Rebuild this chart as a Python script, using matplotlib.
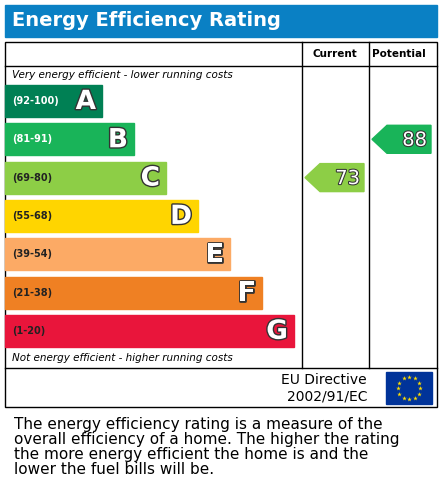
import matplotlib
matplotlib.use("Agg")
import matplotlib.pyplot as plt
from matplotlib.patches import Rectangle, Polygon
import matplotlib.patheffects as pe
import numpy as np

letters = ["A", "B", "C", "D", "E", "F", "G"]
ranges = ["(92-100)", "(81-91)", "(69-80)", "(55-68)", "(39-54)", "(21-38)", "(1-20)"]
colors = ["#008054", "#19b459", "#8dce46", "#ffd500", "#fcaa65", "#ef8023", "#e9153b"]
range_text_colors = ["white", "white", "#222222", "#222222", "#222222", "#222222", "#222222"]
current = 73
potential = 88
current_band = "C"
potential_band = "B"

fig = plt.figure(figsize=(4.42, 4.86), dpi=100)
ax = fig.add_axes([0, 0, 1, 1])
ax.set_xlim(0, 442); ax.set_ylim(486, 0); ax.axis("off")

# title bar
ax.add_patch(Rectangle((5, 5), 432, 32, color="#0a80c4"))
ax.text(12, 21, "Energy Efficiency Rating", color="white", fontsize=14, fontweight="bold", va="center")

# table
lw = 1
ax.add_patch(Rectangle((5, 42), 432, 365, fill=False, lw=lw, ec="black"))
ax.plot([5, 437], [66, 66], color="black", lw=lw)
ax.plot([5, 437], [368, 368], color="black", lw=lw)
ax.plot([302, 302], [42, 368], color="black", lw=lw)
ax.plot([369, 369], [42, 368], color="black", lw=lw)
ax.text(335, 54, "Current", fontsize=7.5, fontweight="bold", ha="center", va="center")
ax.text(399, 54, "Potential", fontsize=7.5, fontweight="bold", ha="center", va="center")
ax.text(12, 75, "Very energy efficient - lower running costs", fontsize=7.5, style="italic", va="center")
ax.text(12, 358, "Not energy efficient - higher running costs", fontsize=7.5, style="italic", va="center")

top0, step, h = 85, 38.3, 32
for i, (L, r, c, tc) in enumerate(zip(letters, ranges, colors, range_text_colors)):
    y = top0 + i * step
    right = 102 + 32 * i
    ax.add_patch(Rectangle((5, y), right - 5, h, color=c))
    ax.text(12, y + h / 2, r, fontsize=7, fontweight="bold", color=tc, va="center")
    ax.text(right - 6, y + h / 2 + 1, L, fontsize=19, fontweight="bold", color="white",
            ha="right", va="center",
            path_effects=[pe.withStroke(linewidth=2, foreground="#333333")])

def arrow(x0, x1, band, val):
    i = letters.index(band)
    y = top0 + i * step
    yt, yb = y + 2, y + 30
    ym = (yt + yb) / 2
    pts = [(x0, ym), (x0 + 15, yt), (x1, yt), (x1, yb), (x0 + 15, yb)]
    ax.add_patch(Polygon(pts, closed=True, color=colors[i]))
    ax.text(x1 - 4, ym + 1, str(val), fontsize=14, color="white", ha="right", va="center",
            path_effects=[pe.withStroke(linewidth=1.5, foreground="#333333")])

arrow(305, 364, current_band, current)
arrow(372, 431, potential_band, potential)

# EU row
ax.text(367, 388, "EU Directive\n2002/91/EC", fontsize=10, ha="right", va="center", linespacing=1.2)
ax.add_patch(Rectangle((386, 372), 46, 32, color="#003399"))
ang = np.linspace(0, 2 * np.pi, 13)[:-1]
ax.scatter(409 + 11 * np.cos(ang), 388 + 11 * np.sin(ang), marker="*", s=12, color="#ffdd00", lw=0)

ax.text(14, 417, "The energy efficiency rating is a measure of the\noverall efficiency of a home. The higher the rating\nthe more energy efficient the home is and the\nlower the fuel bills will be.",
        fontsize=11, va="top", linespacing=1.0)

fig.savefig("out.png", dpi=100)
